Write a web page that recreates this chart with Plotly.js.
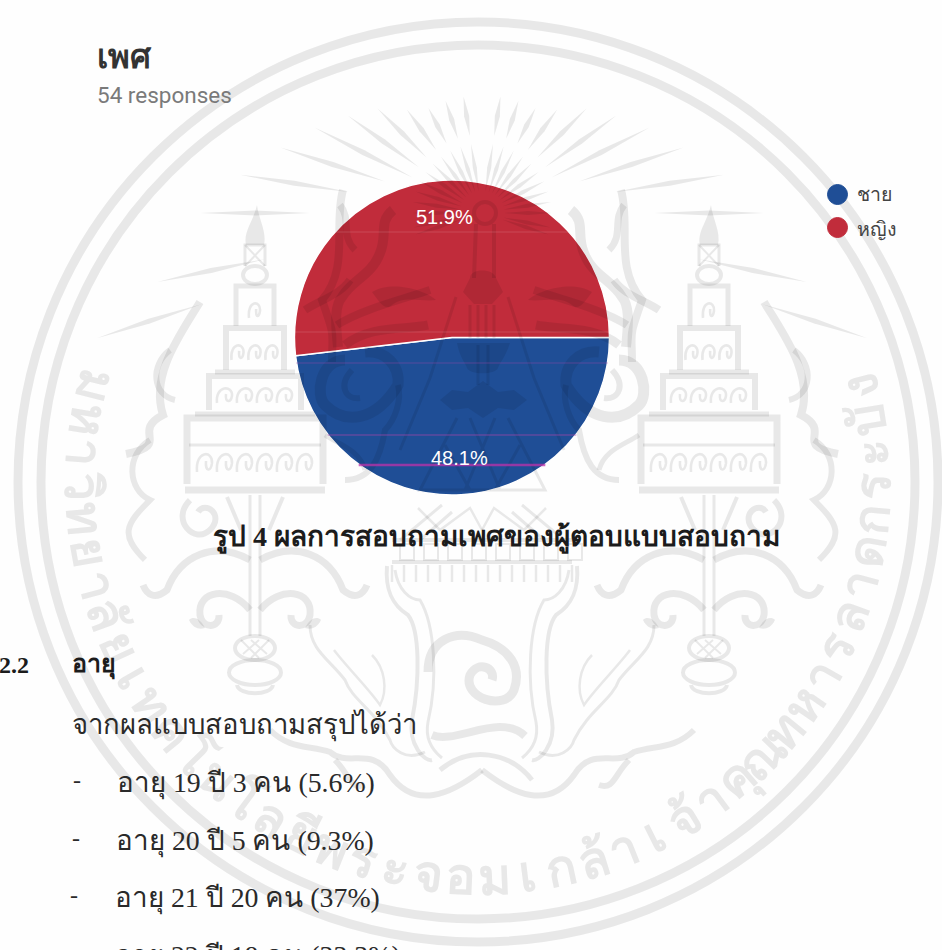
<!DOCTYPE html>
<html>
<head>
<meta charset="utf-8">
<script src="https://cdn.plot.ly/plotly-3.0.1.min.js"></script>
<style>html,body{margin:0;padding:0;background:#fefefe;overflow:hidden}#chart{width:942px;height:950px}</style>
</head>
<body>
<div id="chart"></div>
<script>
// Survey answers: gender of respondents
const categories = ['ชาย', 'หญิง'];
const responses = [26, 28];
const sliceColors = ['#1f4e96', '#c12c3b'];

// Page text around the chart
const heading = 'เพศ';
const responseNote = '54 responses';
const caption = 'รูป 4 ผลการสอบถามเพศของผู้ตอบแบบสอบถาม';
const sectionNumber = '2.2';
const sectionTitle = 'อายุ';
const summaryLead = 'จากผลแบบสอบถามสรุปได้ว่า';
const ageLines = ['อายุ 19 ปี 3 คน (5.6%)', 'อายุ 20 ปี 5 คน (9.3%)', 'อายุ 21 ปี 20 คน (37%)', 'อายุ 22 ปี 18 คน (33.3%)'];
const sealGlyphs = ['ม','ห','า','วิ','ท','ย','า','ลั','ย','เ','ท','ค','โ','น','โ','ล','ยี','พ','ร','ะ','จ','อ','ม','เ','ก','ล้','า','เ','จ้','า','คุ','ณ','ท','ห','า','ร','ล','า','ด','ก','ร','ะ','บั','ง'];

const W = 942, H = 950;
const PIE = {x0: 294, x1: 610, y0: 180, y1: 495};
const INK = 'rgba(0,0,0,0.085)';
const AXIS = 482;

const fx = x => x / W;
const fy = y => 1 - y / H;
// Shape paths are written in page pixels and converted to paper fractions here
const toPaper = d => d.replace(/(-?[\d.]+)[ ,]+(-?[\d.]+)/g, (_, a, b) => fx(+a).toFixed(5) + ' ' + fy(+b).toFixed(5));
const mirrorPath = d => d.replace(/(-?[\d.]+)[ ,]+(-?[\d.]+)/g, (_, a, b) => (2 * AXIS - a) + ' ' + b);

const shapes = [];
function stroke(d, width) {
  shapes.push({type: 'path', xref: 'paper', yref: 'paper', layer: 'above', path: toPaper(d), line: {color: INK, width: width || 3}});
}
function solid(d) {
  shapes.push({type: 'path', xref: 'paper', yref: 'paper', layer: 'above', path: toPaper(d), fillcolor: INK, line: {width: 0}});
}
function both(d, width) { stroke(d, width); stroke(mirrorPath(d), width); }
function bothSolid(d) { solid(d); solid(mirrorPath(d)); }
function ring(cx, cy, r, width, color, fill) {
  shapes.push({type: 'circle', xref: 'paper', yref: 'paper', layer: 'above',
    x0: fx(cx - r), x1: fx(cx + r), y0: fy(cy + r), y1: fy(cy - r),
    line: {color: color || INK, width: width}, fillcolor: fill || 'rgba(0,0,0,0)'});
}
function ellipse(x0, y0, x1, y1, width) {
  shapes.push({type: 'circle', xref: 'paper', yref: 'paper', layer: 'above',
    x0: fx(x0), x1: fx(x1), y0: fy(y1), y1: fy(y0), line: {color: INK, width: width || 3}});
}

// Seal: double outer ring
ring(478, 482, 460, 9);
ring(478, 482, 437, 9);

// Seal: rays around the central finial
const RAY_O = {x: 482, y: 213};
function ray(angle, r1, r2, w) {
  const a = angle * Math.PI / 180, s = Math.sin(a), c = -Math.cos(a);
  const px = RAY_O.x + s * r1, py = RAY_O.y + c * r1;
  const qx = RAY_O.x + s * r2, qy = RAY_O.y + c * r2;
  const mx = RAY_O.x + s * (r1 + r2) / 2, my = RAY_O.y + c * (r1 + r2) / 2;
  const nx = -c * w, ny = s * w;
  solid(`M ${px.toFixed(1)} ${py.toFixed(1)} L ${(mx + nx).toFixed(1)} ${(my + ny).toFixed(1)} L ${qx.toFixed(1)} ${qy.toFixed(1)} L ${(mx - nx).toFixed(1)} ${(my - ny).toFixed(1)} Z`);
}
const rayReach = [[9,118],[18,118],[27,118],[36,128],[45,148],[54,166],[63,188],[72,212],[81,245],[90,282],[102,332],[108,405]];
rayReach.forEach(([ang, r]) => {
  [-1, 1].forEach(side => {
    ray(side * ang, 22, 70, 2);
    ray(side * ang, ang > 70 ? r - 110 : 78, r, 2.6);
  });
});

// Seal: the two stepped towers, one each side
function arches(cx, y, n, w, h) {
  for (let i = 0; i < n; i++) {
    const x = cx - (n * w) / 2 + i * w + 2;
    stroke(`M ${x} ${y + h} C ${x - 2} ${y} ${x + w - 4} ${y} ${x + w - 5} ${y + h * 0.6} C ${x + w - 6} ${y + h} ${x + w * 0.4} ${y + h} ${x + w * 0.45} ${y + h * 0.5}`, 2.6);
  }
}
function box(x0, y0, x1, y1, width) {
  stroke(`M ${x0} ${y1} L ${x0} ${y0} L ${x1} ${y0} L ${x1} ${y1}`, width || 4);
}
function tower(c) {
  solid(`M ${c + 2} 205 C ${c + 4} 220 ${c + 12} 232 ${c + 9} 245 L ${c - 9} 245 C ${c - 12} 232 ${c - 2} 222 ${c + 2} 205 Z`);
  box(c - 10, 245, c + 10, 266, 3);
  stroke(`M ${c - 10} 245 L ${c + 10} 266 M ${c + 10} 245 L ${c - 10} 266`, 2);
  ellipse(c - 12, 266, c + 12, 284, 4);
  box(c - 19, 286, c + 19, 326, 5);
  arches(c, 300, 1, 16, 18);
  box(c - 29, 328, c + 29, 370, 6);
  arches(c, 342, 3, 17, 18);
  stroke(`M ${c - 40} 372 L ${c + 40} 372`, 5);
  box(c - 46, 376, c + 46, 410, 6);
  arches(c, 385, 4, 20, 18);
  stroke(`M ${c - 60} 414 L ${c + 60} 414`, 5);
  box(c - 68, 418, c + 68, 484, 7);
  arches(c, 450, 6, 20, 22);
  stroke(`M ${c - 66} 445 L ${c + 66} 445`, 3);
  stroke(`M ${c - 70} 490 L ${c + 70} 490`, 7);
  stroke(`M ${c - 28} 497 L ${c - 14} 530 M ${c + 28} 497 L ${c + 14} 530`, 4);
  stroke(`M ${c - 5} 495 L ${c - 5} 636 M ${c + 5} 495 L ${c + 5} 636`, 3);
  // foliage on the stem
  stroke(`M ${c - 5} 560 C ${c - 40} 540 ${c - 75} 555 ${c - 88} 590 C ${c - 100} 600 ${c - 108} 595 ${c - 112} 585`, 7);
  stroke(`M ${c + 5} 560 C ${c + 40} 540 ${c + 75} 555 ${c + 88} 590 C ${c + 100} 600 ${c + 108} 595 ${c + 112} 585`, 7);
  stroke(`M ${c - 5} 610 C ${c - 25} 585 ${c - 58} 590 ${c - 55} 615 C ${c - 52} 630 ${c - 35} 628 ${c - 36} 615`, 7);
  stroke(`M ${c + 5} 610 C ${c + 25} 585 ${c + 58} 590 ${c + 55} 615 C ${c + 52} 630 ${c + 35} 628 ${c + 36} 615`, 7);
  solid(`M ${c + 50} 628 C ${c + 55} 618 ${c + 62} 616 ${c + 66} 620 C ${c + 62} 628 ${c + 56} 630 ${c + 50} 628 Z`);
  solid(`M ${c - 50} 628 C ${c - 55} 618 ${c - 62} 616 ${c - 66} 620 C ${c - 62} 628 ${c - 56} 630 ${c - 50} 628 Z`);
  // lotus bud and bowl at the foot
  ellipse(c - 20, 636, c + 20, 660, 4);
  stroke(`M ${c - 14} 640 L ${c + 4} 658 M ${c + 14} 640 L ${c - 4} 658 M ${c - 4} 640 L ${c + 12} 654 M ${c + 4} 640 L ${c - 12} 654`, 2);
  ellipse(c - 26, 660, c + 26, 685, 4);
  stroke(`M ${c - 18} 685 C ${c - 16} 696 ${c + 16} 696 ${c + 18} 685`, 4);
}
tower(255);
tower(709);

// Seal: flame plumes rising either side of the centre
[[343, 190, 333, 225, 350, 268, 322, 300, 336, 340], [200, 302, 180, 335, 150, 375, 163, 415, 130, 432]].forEach(p => {
  both(`M ${p[0]} ${p[1]} C ${p[2]} ${p[3]} ${p[4]} ${p[5]} ${p[6]} ${p[7]} C ${p[8]} ${p[9]} ${p[6] + 10} ${p[7] + 30} ${p[8] - 4} ${p[9] + 22}`, 8);
});
both('M 170 350 C 150 365 152 395 175 400', 6);
both('M 150 440 C 125 455 128 490 150 500 C 125 525 120 535 145 560', 6);
both('M 190 500 C 170 520 195 545 210 530 C 225 515 205 500 198 512', 6);

// Seal: central spire seen through the pie
ring(485, 213, 11, 4);
stroke('M 476 224 L 474 278 M 494 224 L 494 278', 4);
solid('M 470 278 C 470 268 494 268 496 278 L 503 292 L 492 304 L 474 304 L 463 292 Z');
stroke('M 470 305 L 470 338 M 478 305 L 478 338 M 486 305 L 486 338 M 494 305 L 494 338', 3);
both('M 456 297 L 430 378 L 400 450', 3);
solid('M 457 343 L 510 343 C 505 358 500 362 498 368 C 495 375 470 375 467 368 C 465 362 460 358 457 343 Z');
solid('M 440 400 L 452 390 L 468 392 L 483 381 L 498 392 L 514 390 L 527 400 L 514 410 L 498 408 L 483 418 L 468 408 L 452 410 Z');
stroke('M 457 418 L 420 490 L 545 490 L 508 418 M 445 445 L 470 490 M 520 445 L 495 490 M 470 418 L 500 490 M 495 418 L 465 490', 3);
stroke('M 478 345 L 478 385 M 488 345 L 488 385', 3);

// Seal: scrollwork behind the red and blue slices
both('M 338 347 C 335 320 335 305 342 297 C 352 280 372 275 380 253 C 388 235 378 222 393 210', 10);
both('M 337 325 C 360 310 400 300 430 290', 8);
both('M 345 345 C 370 325 405 330 428 325', 9);
both('M 305 310 C 320 300 340 295 350 280', 8);
both('M 355 250 C 340 235 352 220 340 205', 7);
bothSolid('M 372 292 C 392 280 425 290 436 300 C 420 302 405 295 392 305 C 385 312 378 300 372 292 Z');
both('M 345 360 C 320 360 315 395 325 405 C 345 425 375 422 398 385 C 400 365 385 350 365 352', 11);
both('M 352 370 C 338 385 345 400 360 398', 6);
both('M 398 385 C 402 400 395 420 385 430 C 380 460 370 480 345 480', 6);
both('M 325 435 C 340 445 360 450 365 470', 5);

// Seal: canopy and fringe under the pie
stroke('M 400 540 L 442 505 M 564 540 L 522 505 M 420 540 L 452 512 M 544 540 L 512 512', 3);
stroke('M 392 540 L 572 540 M 392 562 L 572 562', 4);
for (let i = 0; i < 8; i++) {
  const x = 400 + i * 24;
  stroke(`M ${x} 544 L ${x + 14} 544 L ${x + 14} 560 L ${x} 560 Z`, 2);
}
for (let i = 0; i < 16; i++) {
  const x = 392 + i * 12;
  stroke(`M ${x} 565 L ${x} 582`, 2.5);
}
both('M 418 508 L 440 530 L 470 508 L 482 530', 2.5);

// Seal: naga pair with curling bodies
both('M 387 566 C 385 590 392 605 408 615 C 420 630 420 680 412 720 C 408 745 425 762 432 760', 4);
both('M 395 570 C 398 590 410 600 420 600 C 435 625 438 680 428 722 C 425 738 432 750 442 758', 3);
both('M 310 625 C 310 650 330 660 345 680 C 352 700 375 710 390 740 C 392 748 405 762 425 752', 3);
both('M 334 650 C 345 665 370 690 380 705 C 388 690 385 668 372 655', 2.5);
both('M 270 730 C 290 750 310 745 330 752 C 348 768 372 745 390 775 C 415 810 450 795 482 770', 6);
both('M 335 760 C 350 775 350 790 365 785', 6);
stroke('M 428 672 C 428 640 455 628 482 640 C 510 648 522 668 514 690 C 505 712 462 698 470 675 C 478 660 496 668 492 680', 9);
stroke('M 432 735 C 455 745 500 712 525 736', 8);
stroke('M 440 770 C 470 745 510 752 532 780', 5);

// Seal: university name set around the lower arc
const glyphAnn = [];
const arcStart = -104, arcEnd = 104;
sealGlyphs.forEach((g, i) => {
  const ang = arcStart + (arcEnd - arcStart) * i / (sealGlyphs.length - 1);
  const a = ang * Math.PI / 180;
  glyphAnn.push({
    xref: 'paper', yref: 'paper', showarrow: false, xanchor: 'center', yanchor: 'middle',
    x: fx(478 + 395 * Math.sin(a)), y: fy(482 + 395 * Math.cos(a)),
    text: '<b>' + g + '</b>', textangle: -ang, font: {family: 'Liberation Sans, Noto Sans, sans-serif', size: 50, color: '#e8e8e8'}
  });
});

// Pie scan streaks, trimmed to the circle
const PCX = (PIE.x0 + PIE.x1) / 2, PCY = (PIE.y0 + PIE.y1) / 2, PR = (PIE.x1 - PIE.x0) / 2;
function streak(y, color, width) {
  const half = Math.sqrt(PR * PR - (y - PCY) * (y - PCY));
  shapes.push({type: 'line', xref: 'paper', yref: 'paper', layer: 'above',
    x0: fx(PCX - half), x1: fx(PCX + half), y0: fy(y), y1: fy(y), line: {color, width}});
}
streak(465, 'rgba(190,50,170,0.75)', 2.5);
streak(435, 'rgba(170,70,170,0.35)', 2);
streak(363, 'rgba(170,70,170,0.2)', 2);
streak(332, 'rgba(255,255,255,0.07)', 2);
streak(232, 'rgba(255,255,255,0.07)', 2);

// Legend dots
const legendY = [194.5, 227.5];
categories.forEach((c, i) => ring(837.5, legendY[i], 10, 1, sliceColors[i], sliceColors[i]));

function label(text, x, y, size, color, family, anchor, bold) {
  return {xref: 'paper', yref: 'paper', showarrow: false, x: fx(x), y: fy(y),
    xanchor: anchor || 'left', yanchor: 'middle', align: 'left',
    text: bold ? '<b>' + text + '</b>' : text,
    font: {family, size, color}};
}
const SANS = 'Roboto, Noto Sans, sans-serif';
const SERIF = 'Liberation Serif, serif';

// Percent labels sit on each slice's mid-angle, worked out from the responses
const total = responses.reduce((a, b) => a + b, 0);
let swept = 0;
const percentLabels = responses.map(v => {
  const mid = (90 + (swept + v / 2) / total * 360) * Math.PI / 180;
  swept += v;
  const lab = label((v / total * 100).toFixed(1) + '%', PCX + 0.765 * PR * Math.sin(mid), PCY - 0.765 * PR * Math.cos(mid), 20, '#ffffff', 'Liberation Sans, Arial, sans-serif', 'center');
  return lab;
});

const pageText = [
  label(heading, 95, 56, 33, '#333333', SANS, 'left', true),
  label(responseNote, 95, 95, 22.5, '#7a7a7a', SANS),
  label(categories[0], 855, 195, 19.5, '#444444', SANS),
  label(categories[1], 855, 229, 19.5, '#444444', SANS),
  label(caption, 496, 537, 28, '#1c1c1c', SERIF, 'center', true),
  label(sectionNumber, -3, 665, 24, '#1c1c1c', SERIF, 'left', true),
  label(sectionTitle, 70, 665, 25, '#1c1c1c', SERIF, 'left', true),
  label(summaryLead, 70, 725, 27.5, '#2a2a2a', SERIF)
];
const lineY = [783, 841, 898, 956];
const dashX = [71, 70, 68, 68];
const textX = [115, 114, 113, 113];
ageLines.forEach((t, i) => {
  pageText.push(label('-', dashX[i], lineY[i] - 3, 24, '#2a2a2a', SERIF));
  pageText.push(label(t, textX[i], lineY[i], 27.8, '#2a2a2a', SERIF));
});

const pie = {
  type: 'pie', labels: categories, values: responses, sort: false, direction: 'clockwise', rotation: 90,
  domain: {x: [fx(PIE.x0), fx(PIE.x1)], y: [fy(PIE.y1), fy(PIE.y0)]},
  marker: {colors: sliceColors, line: {color: '#ffffff', width: 1.4}},
  textinfo: 'none', hoverinfo: 'label+percent', automargin: false
};

Plotly.newPlot('chart', [pie], {
  width: W, height: H, margin: {l: 0, r: 0, t: 0, b: 0},
  paper_bgcolor: '#fefefe', plot_bgcolor: '#fefefe',
  showlegend: false, shapes, annotations: glyphAnn.concat(percentLabels, pageText)
}, {displayModeBar: false, staticPlot: true});
</script>
</body>
</html>
